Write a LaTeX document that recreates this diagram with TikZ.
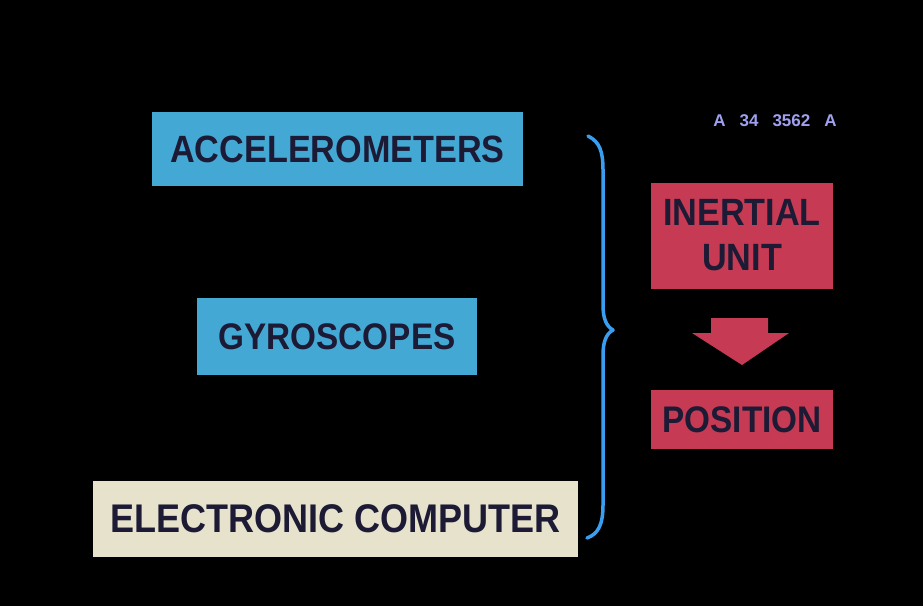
\documentclass[tikz,border=0pt]{standalone}
\usepackage{fontspec}
\usetikzlibrary{calc}
\newfontfamily\labfont[FakeStretch=0.9]{Liberation Sans Bold}
\newfontfamily\codefont{Liberation Sans Bold}
\definecolor{bgblack}{HTML}{000000}
\definecolor{skyblue}{HTML}{44A8D4}
\definecolor{creamc}{HTML}{E6E2CC}
\definecolor{redc}{HTML}{C63A54}
\definecolor{inkc}{HTML}{1C1A34}
\definecolor{bracec}{HTML}{3A9EF0}
\definecolor{codec}{HTML}{A0A0F0}
\tikzset{
  card/.style={rectangle, inner sep=0pt, text=inkc, align=center},
  bluecard/.style={card, fill=skyblue},
  creamcard/.style={card, fill=creamc},
  redcard/.style={card, fill=redc},
}
\begin{document}
\begin{tikzpicture}[x=1pt,y=-1pt]
\fill[bgblack] (0,0) rectangle (923,606);
\useasboundingbox (0,0) rectangle (923,606);

\node[bluecard, minimum width=371pt, minimum height=74pt,
  font=\labfont\fontsize{38}{40}\selectfont] (acc) at (337.5,149) {ACCELEROMETERS};
\node[bluecard, minimum width=280pt, minimum height=77pt,
  font=\labfont\fontsize{37}{40}\selectfont] (gyro) at (337,336.5) {GYROSCOPES};
\node[creamcard, minimum width=485pt, minimum height=76pt,
  font=\labfont\fontsize{40}{42}\selectfont] (comp) at (335.5,519) {ELECTRONIC\hspace{10pt}COMPUTER};

\node[redcard, minimum width=182pt, minimum height=106pt,
  font=\labfont\fontsize{38}{45}\selectfont] (iu) at (742,235.5) {INERTIAL\\UNIT};
\node[redcard, minimum width=182pt, minimum height=59pt,
  font=\labfont\fontsize{37}{40}\selectfont] (pos) at (742,419.5) {POSITION};

\node[text=codec, inner sep=0pt, font=\codefont\fontsize{17}{18}\selectfont] (code) at (775,121)
  {A\hspace{14pt}34\hspace{14pt}3562\hspace{14pt}A};

% block arrow between inertial unit and position
\coordinate (ar) at (742,318);
\fill[redc] ($(ar)+(-31,0)$) -- ($(ar)+(26,0)$) -- ($(ar)+(26,15)$)
  -- ($(ar)+(47,15)$) -- ($(ar)+(0,47)$) -- ($(ar)+(-50,15)$)
  -- ($(ar)+(-31,15)$) -- cycle;

% curly brace
\coordinate (bt) at (588,136);
\coordinate (bm) at (613,330);
\coordinate (bb) at (587,538);
\draw[bracec, line width=3.5pt, line cap=round, line join=round]
  (bt) .. controls (600,142) and (603,152) .. (603,170)
  -- (603,305) .. controls (603,318) and (606,326) .. (bm)
  .. controls (606,334) and (603,342) .. (603,355)
  -- (603,505) .. controls (603,525) and (598,534) .. (bb);
\end{tikzpicture}
\end{document}
